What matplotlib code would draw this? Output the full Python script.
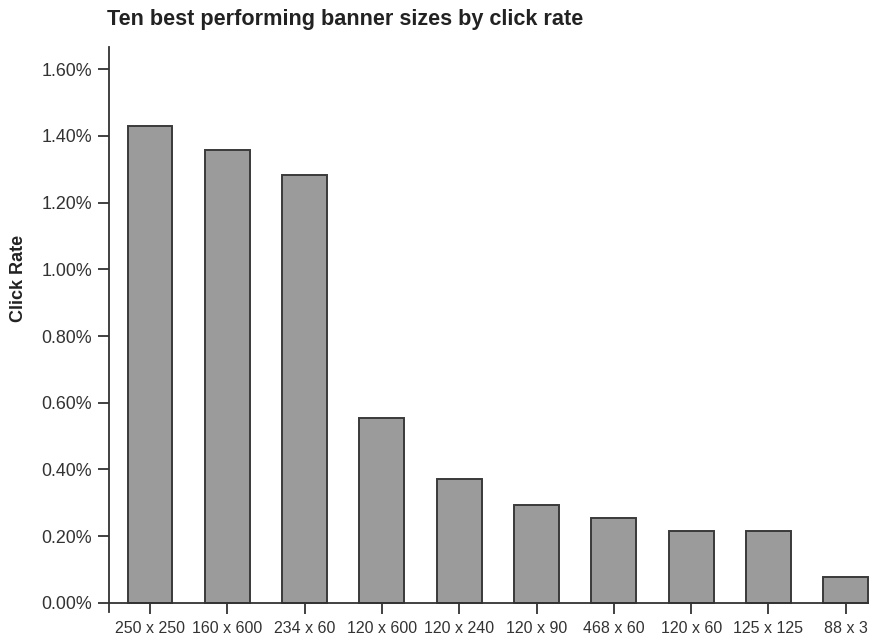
import numpy as np
import matplotlib
matplotlib.use("Agg")
import matplotlib.pyplot as plt
from matplotlib.ticker import FuncFormatter

plt.rcParams['font.family'] = ['Liberation Sans', 'DejaVu Sans']

sizes = ['250 x 250', '160 x 600', '234 x 60', '120 x 600', '120 x 240',
         '120 x 90', '468 x 60', '120 x 60', '125 x 125', '88 x 3']
click_rate = [1.43, 1.357, 1.282, 0.554, 0.370, 0.294, 0.255, 0.216, 0.216, 0.078]
y_ticks = [0.0, 0.2, 0.4, 0.6, 0.8, 1.0, 1.2, 1.4, 1.6]

fig = plt.figure(figsize=(8.69, 6.38), dpi=100)
ax = fig.add_axes([0.1254, 0.0408, 0.8746, 0.8855])

x = np.arange(len(sizes))
ax.bar(x, click_rate, width=0.58, color='#9b9b9b', edgecolor='#3a3a3a', linewidth=1.4)

ax.set_xlim(-0.53, 9.3)
ax.set_ylim(-0.027, 1.666)
ax.set_xticks(x)
ax.set_xticklabels(sizes)
ax.set_yticks(y_ticks)
ax.yaxis.set_major_formatter(FuncFormatter(lambda v, p: '%.2f%%' % v))
ax.tick_params(axis='y', labelsize=12.9, labelcolor='#333333', length=8, width=1.3,
               color='#333333', pad=4)
ax.tick_params(axis='x', labelsize=11.5, labelcolor='#333333', length=8, width=1.3,
               color='#333333', pad=5)

for side in ['top', 'right']:
    ax.spines[side].set_visible(False)
ax.spines['bottom'].set_position(('data', 0))
for side in ['left', 'bottom']:
    ax.spines[side].set_linewidth(1.3)
    ax.spines[side].set_color('#333333')

ax.set_ylabel('Click Rate', fontsize=13, fontweight='bold', color='#222222')
ax.yaxis.set_label_coords(-0.108, 0.59)
fig.text(0.123, 0.970, 'Ten best performing banner sizes by click rate',
         fontsize=15.6, fontweight='bold', color='#222222', ha='left', va='center')

fig.savefig('out.png', dpi=100)
